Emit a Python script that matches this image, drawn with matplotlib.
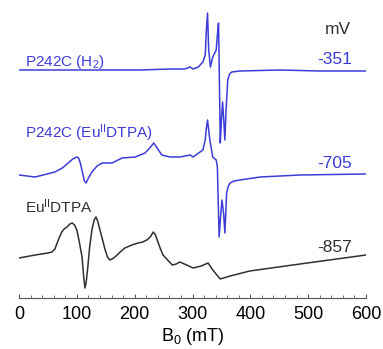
import numpy as np
import matplotlib
matplotlib.use("Agg")
import matplotlib.pyplot as plt
from matplotlib.ticker import MultipleLocator

plt.rcParams["font.family"] = ["Liberation Sans", "DejaVu Sans"]
plt.rcParams["mathtext.default"] = "regular"

# P242C (H2), -351 mV
b_h2 = [0, 71, 140, 209, 261, 287, 296, 301, 310, 318, 322, 324, 326, 328, 331,
        335, 341, 343, 345, 346, 348, 350, 352, 354, 356, 358, 361, 364, 368,
        382, 451, 520, 600]
i_h2 = [0, 0, 0, 0, 1, 1, 3, 1, 3, 8, 15, 40, 57, 20, 3,
        13, 20, 35, 47, 10, -73, -50, -32, -50, -70, -40, -10, -4, -2,
        -1, 0, -1, -1]

# P242C (EuII DTPA), -705 mV
b_eu = [0, 28, 62, 75, 85, 93, 100, 103, 106, 110, 113, 116, 120, 126, 135,
        144, 161, 178, 201, 218, 226, 233, 240, 247, 261, 278, 296, 301, 313,
        318, 322, 324, 326, 328, 330, 335, 341, 343, 346, 348, 351, 354, 356,
        359, 362, 365, 372, 382, 417, 486, 600]
i_eu = [0, -2, 3, 7, 12, 16, 18, 17, 12, 2, -6, -8, -3, 3, 9,
        12, 12, 17, 18, 22, 27, 32, 26, 20, 18, 18, 20, 18, 23,
        25, 35, 47, 55, 45, 35, 18, 15, 8, -62, -45, -25, -40, -58,
        -18, -11, -8, -6, -5, -2, 0, 1]

# EuII DTPA, -857 mV
b_ref = [0, 28, 50, 57, 62, 66, 70, 74, 78, 83, 88, 92, 96, 100, 104,
         109, 112, 114, 116, 119, 122, 126, 130, 133, 136, 140, 145, 149, 153,
         157, 161, 166, 175, 183, 195, 206, 214, 221, 227, 232, 236, 239, 244,
         249, 257, 265, 272, 278, 290, 301, 315, 327, 335, 348, 365, 399, 486,
         600]
i_ref = [0, 3, 5, 6, 9, 15, 21, 26, 29, 31, 34, 35, 33, 28, 17,
         1, -20, -30, -25, -9, 10, 28, 38, 41, 37, 28, 17, 8, 1,
         -2, -1, 1, 6, 10, 13, 15, 16, 18, 21, 26, 23, 18, 10,
         3, -2, -7, -6, -4, -7, -10, -8, -5, -12, -21, -18, -13, -6,
         3]

offsets = [228, 123, 40]
blue = "#3c3cd8"
dark = "#303030"

fig = plt.figure(figsize=(3.83, 3.49), dpi=100)
ax = fig.add_axes([19 / 383, 51 / 349, 347 / 383, 298 / 349])

ax.plot(b_h2, np.array(i_h2) + offsets[0], color=blue, lw=1.1)
ax.plot(b_eu, np.array(i_eu) + offsets[1], color=blue, lw=1.1)
ax.plot(b_ref, np.array(i_ref) + offsets[2], color=dark, lw=1.1)

ax.text(10, 236, "P242C (H$_2$)", color=blue, fontsize=11, va="center")
ax.text(10, 165, "P242C (Eu$^{II}$DTPA)", color=blue, fontsize=11, va="center")
ax.text(10, 91, "Eu$^{II}$DTPA", color=dark, fontsize=11, va="center")
ax.text(552, 268, "mV", color=dark, fontsize=12.5, ha="center", va="center")
ax.text(546, 238, "-351", color=blue, fontsize=12.5, ha="center", va="center")
ax.text(546, 135, "-705", color=blue, fontsize=12.5, ha="center", va="center")
ax.text(546, 50, "-857", color=dark, fontsize=12.5, ha="center", va="center")

ax.set_xlim(0, 600)
ax.set_ylim(0, 298)
for s in ["left", "right", "top"]:
    ax.spines[s].set_visible(False)
ax.spines["bottom"].set_color("#555555")
ax.set_yticks([])
ax.xaxis.set_major_locator(MultipleLocator(100))
ax.xaxis.set_minor_locator(MultipleLocator(20))
ax.tick_params(axis="x", which="major", direction="in", length=3, labelsize=13,
               color="#555555", pad=6)
ax.tick_params(axis="x", which="minor", direction="in", length=2, color="#555555")
ax.set_xlabel("B$_0$ (mT)", fontsize=13, labelpad=2)
ax.patch.set_alpha(0)

fig.savefig("out.png", dpi=100)
